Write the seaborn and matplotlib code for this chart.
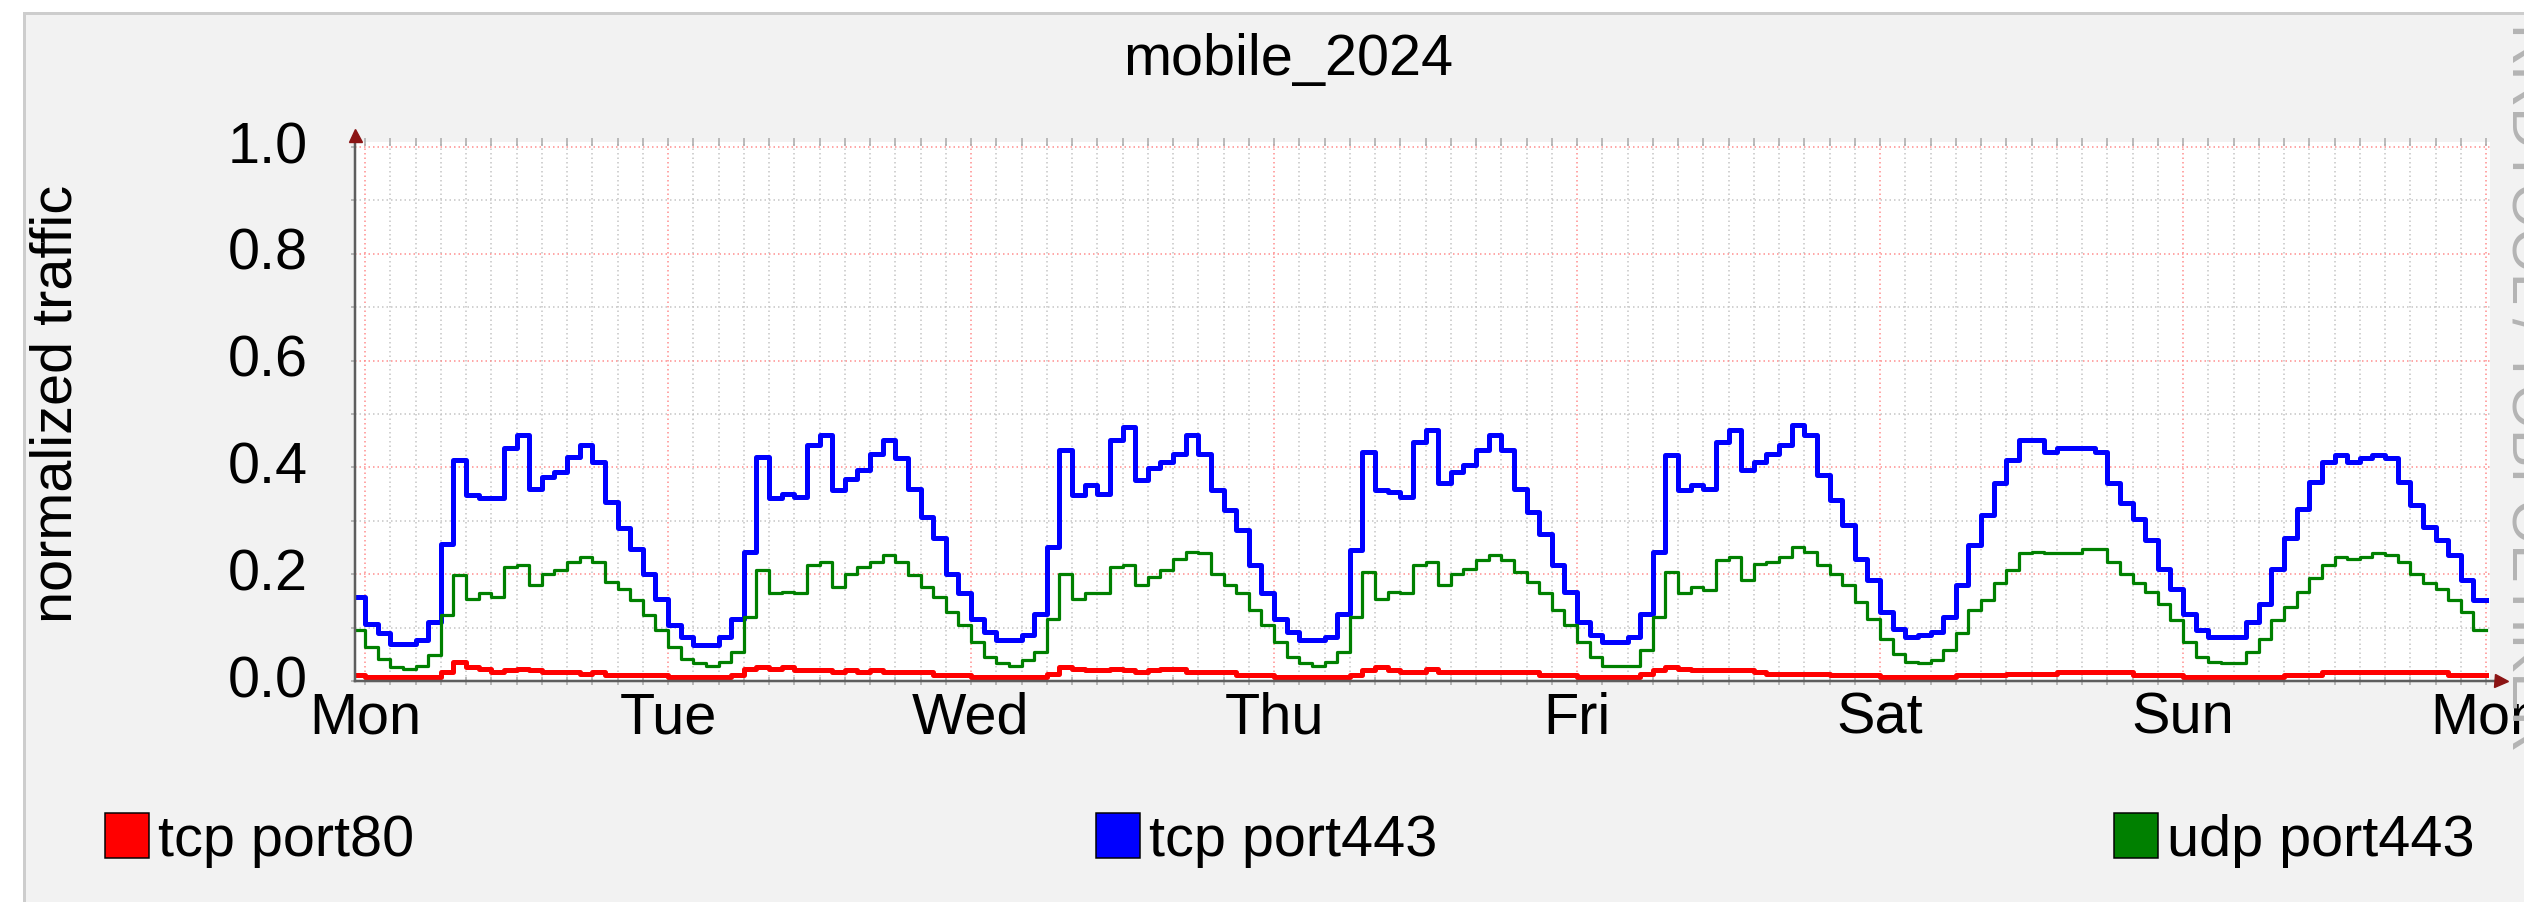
import matplotlib
matplotlib.use('Agg')
import matplotlib.pyplot as plt
import matplotlib.transforms as mtransforms
from matplotlib.patches import Rectangle
from matplotlib.ticker import FixedLocator, MultipleLocator
import numpy as np
import pandas as pd
import seaborn as sns

# --- Texte ---
title = 'mobile_2024'
y_label = 'normalized traffic'
day_labels = ['Mon', 'Tue', 'Wed', 'Thu', 'Fri', 'Sat', 'Sun', 'Mon']
y_tick_labels = ['0.0', '0.2', '0.4', '0.6', '0.8', '1.0']
series_names = ['tcp port80', 'tcp port443', 'udp port443']
series_colors = ['#ff0000', '#0000ff', '#008000']
watermark = 'RRDTOOL / TOBI OETIKER'

# --- Stundenwerte (je Tag 24 Werte), *_pre = Wert vor Montag 00:00 ---
tcp80_pre = 0.011
tcp80_mon = [0.008, 0.008, 0.008, 0.008, 0.008, 0.008, 0.017, 0.036, 0.026, 0.023, 0.017, 0.020,
             0.023, 0.020, 0.017, 0.017, 0.017, 0.014, 0.017, 0.011, 0.011, 0.011, 0.011, 0.011]
tcp80_tue = [0.008, 0.008, 0.008, 0.008, 0.008, 0.011, 0.023, 0.026, 0.023, 0.026, 0.020, 0.020,
             0.020, 0.017, 0.020, 0.017, 0.020, 0.017, 0.017, 0.017, 0.017, 0.011, 0.011, 0.011]
tcp80_wed = [0.008, 0.008, 0.008, 0.008, 0.008, 0.008, 0.014, 0.026, 0.023, 0.020, 0.020, 0.023,
             0.020, 0.017, 0.020, 0.023, 0.023, 0.017, 0.017, 0.017, 0.017, 0.011, 0.011, 0.011]
tcp80_thu = [0.008, 0.008, 0.008, 0.008, 0.008, 0.008, 0.011, 0.020, 0.026, 0.020, 0.017, 0.017,
             0.023, 0.017, 0.017, 0.017, 0.017, 0.017, 0.017, 0.017, 0.017, 0.011, 0.011, 0.011]
tcp80_fri = [0.008, 0.008, 0.008, 0.008, 0.008, 0.014, 0.020, 0.026, 0.023, 0.020, 0.020, 0.020,
             0.020, 0.020, 0.017, 0.014, 0.014, 0.014, 0.014, 0.014, 0.011, 0.011, 0.011, 0.011]
tcp80_sat = [0.008, 0.008, 0.008, 0.008, 0.008, 0.008, 0.011, 0.011, 0.011, 0.011, 0.014, 0.014,
             0.014, 0.014, 0.017, 0.017, 0.017, 0.017, 0.017, 0.017, 0.011, 0.011, 0.011, 0.011]
tcp80_sun = [0.008, 0.008, 0.008, 0.008, 0.008, 0.008, 0.008, 0.008, 0.011, 0.011, 0.011, 0.017,
             0.017, 0.017, 0.017, 0.017, 0.017, 0.017, 0.017, 0.017, 0.017, 0.011, 0.011, 0.011]

tcp443_pre = 0.157
tcp443_mon = [0.107, 0.089, 0.070, 0.070, 0.076, 0.110, 0.257, 0.414, 0.348, 0.342, 0.342, 0.436,
              0.460, 0.360, 0.382, 0.392, 0.420, 0.442, 0.410, 0.336, 0.286, 0.248, 0.200, 0.154]
tcp443_tue = [0.104, 0.083, 0.067, 0.067, 0.083, 0.117, 0.242, 0.420, 0.342, 0.351, 0.345, 0.442,
              0.460, 0.357, 0.379, 0.395, 0.426, 0.451, 0.417, 0.360, 0.308, 0.267, 0.200, 0.164]
tcp443_wed = [0.117, 0.092, 0.076, 0.076, 0.086, 0.126, 0.251, 0.433, 0.348, 0.367, 0.351, 0.451,
              0.476, 0.376, 0.398, 0.410, 0.426, 0.460, 0.426, 0.358, 0.320, 0.283, 0.217, 0.164]
tcp443_thu = [0.117, 0.092, 0.076, 0.076, 0.083, 0.126, 0.245, 0.429, 0.358, 0.354, 0.345, 0.448,
              0.470, 0.370, 0.392, 0.404, 0.433, 0.460, 0.433, 0.360, 0.317, 0.276, 0.217, 0.167]
tcp443_fri = [0.111, 0.086, 0.073, 0.073, 0.083, 0.126, 0.242, 0.423, 0.358, 0.367, 0.360, 0.448,
              0.470, 0.395, 0.410, 0.426, 0.442, 0.479, 0.460, 0.386, 0.339, 0.292, 0.229, 0.189]
tcp443_sat = [0.129, 0.098, 0.083, 0.086, 0.092, 0.120, 0.179, 0.254, 0.310, 0.370, 0.414, 0.451,
              0.451, 0.429, 0.436, 0.436, 0.436, 0.429, 0.370, 0.333, 0.304, 0.264, 0.210, 0.173]
tcp443_sun = [0.126, 0.095, 0.083, 0.083, 0.083, 0.110, 0.145, 0.210, 0.267, 0.323, 0.373, 0.410,
              0.423, 0.410, 0.417, 0.423, 0.417, 0.373, 0.329, 0.289, 0.264, 0.236, 0.189, 0.151]

udp443_pre = 0.095
udp443_mon = [0.064, 0.042, 0.026, 0.023, 0.029, 0.048, 0.123, 0.198, 0.154, 0.164, 0.158, 0.214,
              0.217, 0.179, 0.200, 0.208, 0.223, 0.233, 0.223, 0.186, 0.173, 0.151, 0.123, 0.095]
udp443_tue = [0.064, 0.042, 0.033, 0.029, 0.036, 0.054, 0.120, 0.208, 0.164, 0.167, 0.164, 0.217,
              0.223, 0.176, 0.200, 0.214, 0.223, 0.236, 0.223, 0.198, 0.176, 0.158, 0.129, 0.104]
udp443_wed = [0.073, 0.045, 0.033, 0.029, 0.039, 0.054, 0.117, 0.200, 0.154, 0.164, 0.164, 0.214,
              0.217, 0.179, 0.195, 0.208, 0.229, 0.242, 0.239, 0.200, 0.179, 0.164, 0.133, 0.104]
udp443_thu = [0.073, 0.045, 0.033, 0.029, 0.036, 0.054, 0.120, 0.204, 0.154, 0.167, 0.164, 0.217,
              0.223, 0.179, 0.200, 0.210, 0.226, 0.236, 0.226, 0.204, 0.186, 0.164, 0.133, 0.104]
udp443_fri = [0.073, 0.045, 0.029, 0.029, 0.029, 0.058, 0.120, 0.204, 0.164, 0.176, 0.170, 0.226,
              0.233, 0.189, 0.220, 0.223, 0.233, 0.251, 0.242, 0.217, 0.200, 0.179, 0.148, 0.117]
udp443_sat = [0.079, 0.051, 0.036, 0.033, 0.039, 0.058, 0.089, 0.133, 0.151, 0.183, 0.208, 0.239,
              0.242, 0.239, 0.239, 0.239, 0.248, 0.248, 0.223, 0.200, 0.183, 0.167, 0.145, 0.114]
udp443_sun = [0.073, 0.045, 0.036, 0.033, 0.033, 0.054, 0.079, 0.114, 0.139, 0.167, 0.192, 0.217,
              0.233, 0.229, 0.233, 0.239, 0.236, 0.223, 0.200, 0.183, 0.173, 0.151, 0.129, 0.095]

series_values = {
    'tcp port80': [tcp80_pre] + tcp80_mon + tcp80_tue + tcp80_wed + tcp80_thu
                  + tcp80_fri + tcp80_sat + tcp80_sun,
    'tcp port443': [tcp443_pre] + tcp443_mon + tcp443_tue + tcp443_wed + tcp443_thu
                   + tcp443_fri + tcp443_sat + tcp443_sun,
    'udp port443': [udp443_pre] + udp443_mon + udp443_tue + udp443_wed + udp443_thu
                   + udp443_fri + udp443_sat + udp443_sun,
}

# --- Geometrie (Pixel im Zielbild) ---
W, H, DPI = 2524, 902, 100
PX = 72.0 / DPI  # Pixel -> Punkt


def fx(px):
    return px / W


def fy(py):
    return 1 - py / H


plt.rcParams['font.family'] = ['Liberation Sans', 'DejaVu Sans']
FS = 41.5

fig = plt.figure(figsize=(W / DPI, H / DPI), dpi=DPI, facecolor='white')

# grauer Rahmen / Hintergrund
fig.add_artist(Rectangle((fx(23.5), fy(920)), (2540 - 23.5) / W, (920 - 13) / H,
                         transform=fig.transFigure, facecolor='#f2f2f2',
                         edgecolor='#cdcdcd', linewidth=3 * PX, zorder=-2))

ax_l, ax_r, ax_t, ax_b = 355, 2490, 142, 681
ax = fig.add_axes([fx(ax_l), fy(ax_b), (ax_r - ax_l) / W, (ax_b - ax_t) / H])
ax.set_facecolor('white')

# Daten: Intervallbeginn in Stunden ab Montag 00:00
for name, color in zip(series_names, series_colors):
    vals = series_values[name]
    hours = np.arange(-1, len(vals) - 1)
    df = pd.DataFrame({'hour': np.append(hours, hours[-1] + 1),
                       'value': vals + [vals[-1]]})
    lw = 3.2 if name == 'udp port443' else 5.0
    sns.lineplot(data=df, x='hour', y='value', color=color, linewidth=lw * PX,
                 drawstyle='steps-post', estimator=None, sort=False,
                 legend=False, ax=ax, zorder=3)

ax.set_xlabel('')
ax.set_ylabel('')

px_per_hour = 12.625
ax.set_xlim(-(365 - ax_l) / px_per_hour, 168 + (ax_r - 2486) / px_per_hour)
ax.set_ylim(0, (ax_b - ax_t) / 534.0)

ax.xaxis.set_major_locator(FixedLocator(np.arange(len(day_labels)) * 24))
ax.xaxis.set_minor_locator(MultipleLocator(2))
ax.set_xticklabels(day_labels)
ax.yaxis.set_major_locator(FixedLocator([float(t) for t in y_tick_labels]))
ax.yaxis.set_minor_locator(MultipleLocator(0.1))
ax.set_yticklabels(y_tick_labels)

ax.set_axisbelow(True)
ax.grid(which='minor', color='#c4c4c4', linestyle=(0, (1, 2)), linewidth=1.5 * PX)
ax.grid(which='major', color='#ff8c8c', linestyle=(0, (1, 2)), linewidth=1.5 * PX)

for s in ax.spines.values():
    s.set_visible(False)

ax.tick_params(axis='x', which='both', top=True, bottom=True, direction='inout',
               length=8 * PX, width=1.5 * PX, color='#a8a8a8')
ax.tick_params(axis='x', which='major', labelsize=FS, pad=7 * PX, labelcolor='black')
ax.tick_params(axis='y', which='both', left=True, direction='out',
               length=4 * PX, width=1.5 * PX, color='#a8a8a8')
ax.tick_params(axis='y', which='major', labelsize=FS, pad=43 * PX, labelcolor='black')

offset = mtransforms.ScaledTranslation(0, 5 / DPI, fig.dpi_scale_trans)
for lab in ax.get_yticklabels():
    lab.set_transform(lab.get_transform() + offset)

# Achsenlinien mit Pfeilen
axis_col = '#5e5e5e'
arrow_col = '#8b1414'
ax.plot([0, 0], [0, (ax_b - 134) / (ax_b - ax_t)], transform=ax.transAxes,
        color=axis_col, linewidth=2.5 * PX, clip_on=False, zorder=5)
ax.plot([0, (2497 - ax_l) / (ax_r - ax_l)], [0, 0], transform=ax.transAxes,
        color=axis_col, linewidth=2.5 * PX, clip_on=False, zorder=5)
ax.plot([0], [(ax_b - 135) / (ax_b - ax_t)], transform=ax.transAxes, marker='^',
        markersize=13 * PX, color=arrow_col, clip_on=False, zorder=6)
ax.plot([(2501 - ax_l) / (ax_r - ax_l)], [0], transform=ax.transAxes, marker='>',
        markersize=13 * PX, color=arrow_col, clip_on=False, zorder=6)

# Titel, Achsentitel, Wasserzeichen
fig.text(fx(1288), fy(75), title, ha='center', va='baseline', fontsize=FS, color='black')
fig.text(fx(72), fy(404), y_label, rotation=90, rotation_mode='anchor',
         ha='center', va='baseline', fontsize=FS, color='black')
fig.text(fx(2513), fy(23), watermark, rotation=270, rotation_mode='anchor',
         ha='left', va='baseline', fontsize=FS, color='#b4b4b4')

# Legende
legend_box_x = [105, 1096, 2114]
for name, color, bx in zip(series_names, series_colors, legend_box_x):
    fig.add_artist(Rectangle((fx(bx), fy(858)), 44 / W, 45 / H, transform=fig.transFigure,
                             facecolor=color, edgecolor='black', linewidth=1.5 * PX))
    fig.text(fx(bx + 53), fy(856), name, ha='left', va='baseline', fontsize=FS, color='black')

fig.savefig('out.png', dpi=DPI, facecolor='white')
